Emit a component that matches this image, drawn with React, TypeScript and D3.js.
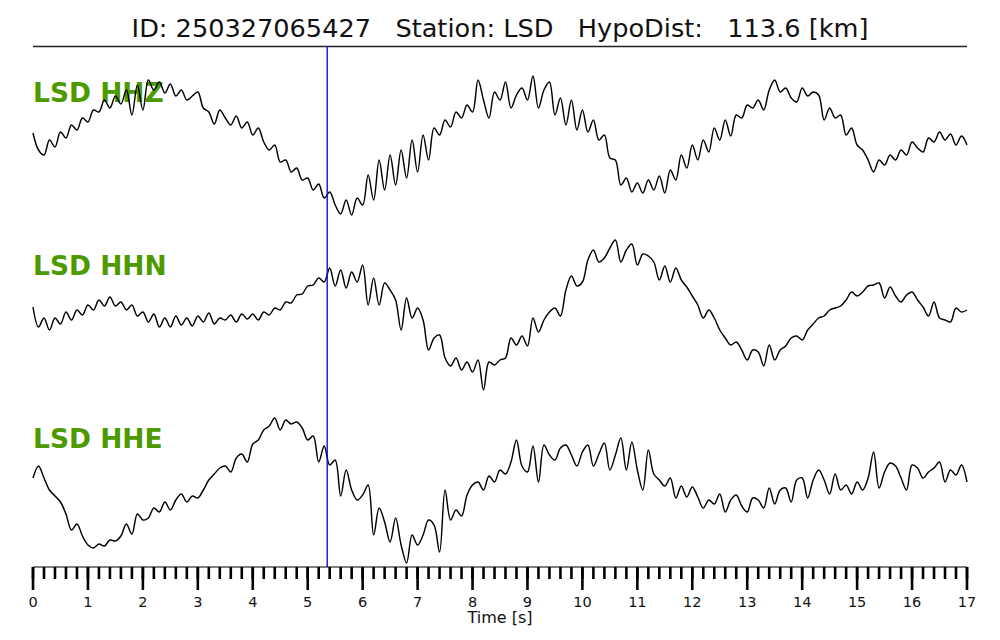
import React from "react";
import * as d3 from "d3";

// waveform samples every 0.1 s from 0 to 17 s (arbitrary counts)
const sampleStep = 0.1;

const hhz = [
  13, -4, -9, 6, -1, 14, 8, 21, 16, 28,
  24, 36, 34, 46, 38, 50, 42, 56, 31, 61,
  36, 66, 56, 64, 53, 62, 50, 56, 46, 50,
  54, 38, 34, 22, 36, 28, 21, 30, 18, 24,
  11, 18, 4, -4, 1, -16, -14, -26, -22, -34,
  -32, -44, -38, -52, -46, -59, -68, -54, -69, -52,
  -59, -29, -54, -14, -44, -9, -39, -4, -32, 6,
  -26, 11, -14, 18, 11, 26, 19, 34, 28, 41,
  34, 66, 46, 28, 54, 46, 64, 38, 51, 58,
  46, 70, 38, 56, 64, 31, 48, 21, 46, 16,
  36, 14, 26, 6, 11, -12, -14, -39, -32, -46,
  -37, -47, -34, -44, -30, -47, -24, -34, -9, -22,
  1, -14, 6, -6, 18, 6, 26, 10, 31, 28,
  41, 38, 46, 36, 56, 66, 54, 58, 48, 44,
  58, 50, 54, 51, 26, 38, 28, 31, 11, 18,
  1, -4, -14, -26, -14, -19, -9, -14, -4, -9,
  4, -2, -6, 8, 4, 14, 6, 12, 1, 10,
  1,
];

const hhn = [
  7, -13, -4, -16, -4, -10, 2, -6, 4, -1,
  9, 4, 14, 8, 17, 8, 12, 4, 9, -2,
  2, -8, 0, -13, -4, -13, -2, -11, -4, -12,
  -2, -8, 1, -10, -4, -6, -1, -8, 0, -5,
  0, -6, 2, -1, 6, 4, 12, 11, 19, 20,
  28, 29, 36, 32, 46, 28, 44, 26, 42, 32,
  49, 9, 36, 9, 31, 24, 14, -16, 16, -4,
  6, -6, -36, -24, -21, -44, -52, -44, -56, -48,
  -58, -46, -76, -48, -51, -46, -44, -24, -31, -22,
  -32, -4, -18, -6, 2, 6, -2, 24, 38, 28,
  32, 54, 64, 52, 56, 66, 74, 52, 64, 70,
  49, 60, 58, 52, 34, 48, 32, 46, 34, 27,
  18, 9, -4, 4, -4, -16, -24, -31, -28, -36,
  -46, -36, -38, -52, -31, -46, -36, -32, -24, -22,
  -26, -16, -10, -4, -2, 4, 6, 8, 14, 22,
  18, 22, 28, 29, 31, 16, 27, 18, 12, 19,
  22, 14, 7, -2, 12, -4, -6, -8, 6, 2,
  4,
];

const hhe = [
  12, 24, 12, 0, -6, -12, -24, -40, -34, -46,
  -55, -58, -54, -56, -50, -51, -46, -34, -44, -24,
  -30, -28, -18, -22, -12, -20, -10, -4, -12, -6,
  -8, 0, 10, 16, 22, 24, 18, 32, 36, 28,
  46, 50, 60, 64, 72, 60, 70, 66, 68, 62,
  50, 54, 28, 44, 25, 30, -6, 20, 0, -10,
  -5, 5, -45, -18, -32, -52, -28, -55, -73, -45,
  -55, -45, -30, -35, -62, 0, -30, -20, -26, -5,
  5, 8, 0, 14, 8, 20, 16, 28, 50, 24,
  18, 44, 8, 45, 35, 30, 42, 45, 35, 24,
  38, 45, 24, 36, 47, 20, 35, 52, 20, 48,
  20, 0, 40, 16, 10, 4, 12, -8, 4, -7,
  3, -7, -18, -10, -14, -4, -22, -10, -5, -16,
  -22, -8, -10, -18, 2, -14, 0, 2, -12, 10,
  12, -8, 10, 20, 10, -4, 16, 0, 5, -4,
  8, 0, 12, 38, 2, 18, 27, 24, 12, 0,
  25, 22, 12, 18, 22, 28, 8, 20, 15, 25,
  8,
];

const channels = ["LSD HHZ", "LSD HHN", "LSD HHE"];
const traces = [hhz, hhn, hhe];
const pickTime = 5.355;
const timeTicks = d3.range(0, 18, 1);
const minorTicks = d3.range(0, 17.001, 0.2);
const title = "ID: 250327065427   Station: LSD   HypoDist:   113.6 [km]";

const width = 1000;
const height = 640;
const left = 33;
const right = 967;
const axisY = 567;
const traceCenters = [146, 314, 490];
const labelBaselines = [102, 275, 448];

export default function App() {
  const x = d3.scaleLinear().domain([0, 17]).range([left, right]);
  const font = "'DejaVu Sans', sans-serif";

  return (
    <svg
      width={width}
      height={height}
      viewBox={`0 0 ${width} ${height}`}
      style={{ position: "absolute", left: 0, top: 0, background: "#fff" }}
    >
      <text
        x={500}
        y={37}
        textAnchor="middle"
        fontFamily={font}
        fontSize={25.6}
        fill="#111"
        style={{ whiteSpace: "pre" }}
      >
        {title}
      </text>
      <line x1={left} x2={right} y1={46.5} y2={46.5} stroke="#222" strokeWidth={1.4} />

      {traces.map((values, i) => {
        const y = d3
          .scaleLinear()
          .domain([-80, 80])
          .range([traceCenters[i] + 80, traceCenters[i] - 80]);
        const line = d3
          .line<number>()
          .x((_, k) => x(k * sampleStep))
          .y((v) => y(v))
          .curve(d3.curveCatmullRom.alpha(0.5));
        return (
          <g key={channels[i]}>
            <text
              x={left}
              y={labelBaselines[i]}
              fontFamily={font}
              fontWeight="bold"
              fontSize={26.5}
              fill="#4c9a00"
            >
              {channels[i]}
            </text>
            <path
              d={line(values) ?? ""}
              fill="none"
              stroke="#000"
              strokeWidth={1.45}
              strokeLinejoin="round"
            />
          </g>
        );
      })}

      <line
        x1={x(pickTime)}
        x2={x(pickTime)}
        y1={46.5}
        y2={axisY}
        stroke="#1010d8"
        strokeWidth={1.4}
      />

      {/* time axis */}
      <g>
        <line x1={left} x2={right} y1={axisY} y2={axisY} stroke="#000" strokeWidth={1.2} />
        {minorTicks.map((t) => (
          <line
            key={`m-${t.toFixed(1)}`}
            x1={x(t)}
            x2={x(t)}
            y1={axisY}
            y2={axisY + 12}
            stroke="#000"
            strokeWidth={2.6}
          />
        ))}
        {timeTicks.map((t) => (
          <g key={`t-${t}`}>
            <line x1={x(t)} x2={x(t)} y1={axisY} y2={axisY + 23} stroke="#000" strokeWidth={2.6} />
            <text
              x={x(t)}
              y={607}
              textAnchor="middle"
              fontFamily={font}
              fontSize={14.5}
              fill="#111"
            >
              {t}
            </text>
          </g>
        ))}
        <text x={500} y={623} textAnchor="middle" fontFamily={font} fontSize={16} fill="#111">
          Time [s]
        </text>
      </g>
    </svg>
  );
}
